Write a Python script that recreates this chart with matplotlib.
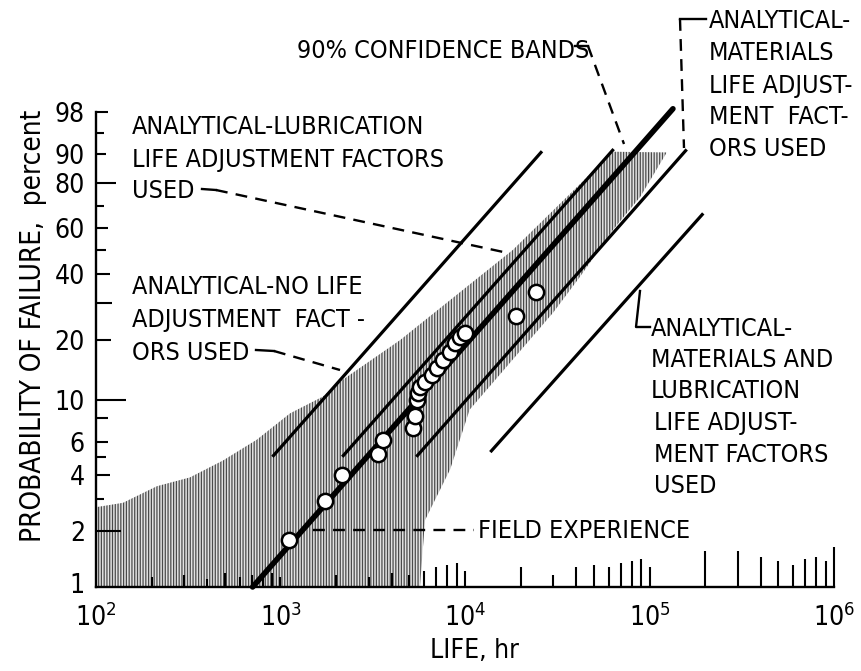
import numpy as np
import matplotlib
matplotlib.use("Agg")
import matplotlib.pyplot as plt
from matplotlib.lines import Line2D
from matplotlib.transforms import ScaledTranslation
from matplotlib.ticker import FixedLocator, FixedFormatter, NullFormatter
from matplotlib import font_manager as fm

# ---------------- data ----------------
life_pts = [1117, 1745, 2143, 3370, 3590, 5220, 5360, 5490, 5560, 5700,
            6070, 6620, 7050, 7600, 8300, 8840, 9400, 10000, 19000, 24200]
prob_pts = [1.8, 2.9, 4.0, 5.2, 6.2, 7.1, 8.2, 10.0, 10.9, 11.7,
            12.4, 13.4, 14.6, 16.0, 17.4, 19.4, 20.8, 21.6, 26.2, 33.4]

field_life = [706, 134000]
field_prob = [1.0, 98.3]
none_life = [916, 25800]
none_prob = [5.1, 90.5]
lub_life = [2190, 63100]
lub_prob = [5.1, 91.1]
mat_life = [5520, 157000]
mat_prob = [5.1, 91.0]
matlub_life = [13900, 193000]
matlub_prob = [5.4, 66.0]

band_life = [100, 100, 140, 214, 323, 488, 746, 1125, 1698, 2180, 4450, 18200,
             63400, 124000, 89000, 63400, 42000, 30000, 10600, 8300, 6070, 5700]
band_prob = [1.0, 2.7, 2.85, 3.5, 3.9, 4.8, 6.2, 8.5, 10.4, 12.7, 20, 50,
             90.7, 90.5, 74, 59, 39, 27, 8.9, 4.3, 2.3, 1.0]

y_major = [1, 2, 4, 6, 10, 20, 40, 60, 80, 90, 98]
y_minor = [3, 5, 8, 30, 50, 70, 95]
x_major = [1e2, 1e3, 1e4, 1e5, 1e6]
x_major_labels = [r"$\mathregular{10^{2}}$", r"$\mathregular{10^{3}}$",
                  r"$\mathregular{10^{4}}$", r"$\mathregular{10^{5}}$",
                  r"$\mathregular{10^{6}}$"]

# ---------------- fonts ----------------
avail = {f.name for f in fm.fontManager.ttflist}
stretch = "normal"
if "Liberation Sans Narrow" in avail:
    FONT = "Liberation Sans Narrow"
elif any(f.name == "DejaVu Sans" and f.stretch == "condensed" for f in fm.fontManager.ttflist):
    FONT = "DejaVu Sans"
    stretch = "condensed"
else:
    FONT = "Liberation Sans"
FAM = [FONT, "DejaVu Sans"]
plt.rcParams["font.family"] = FAM
plt.rcParams["font.stretch"] = stretch
plt.rcParams["mathtext.fontset"] = "custom"
plt.rcParams["mathtext.rm"] = FONT
plt.rcParams["mathtext.it"] = FONT
plt.rcParams["mathtext.bf"] = FONT
plt.rcParams["hatch.linewidth"] = 0.9
FS = 18

W, H = 862, 671
def fx(x):
    return x / W
def fy(y):
    return 1 - y / H

fig = plt.figure(figsize=(W / 100, H / 100), dpi=100)
ax = fig.add_axes([fx(96), fy(587), (834 - 96) / W, (587 - 112) / H])

def fwd(p):
    p = np.clip(np.asarray(p, dtype=float), 1e-6, 99.9999)
    return np.log(-np.log(1 - p / 100.0))

def inv(w):
    return 100.0 * (1 - np.exp(-np.exp(w)))

ax.set_xscale("log")
ax.set_yscale("function", functions=(fwd, inv))
ax.set_xlim(100, 1e6)
ax.set_ylim(1, 98)

# shaded confidence band
ax.fill(band_life, band_prob, facecolor="#e2e2e2", edgecolor="#4a4a4a",
        hatch="||||||", linewidth=0, zorder=1)

# lines
ax.plot(field_life, field_prob, color="black", lw=4.0, solid_capstyle="round",
        zorder=4, clip_on=False)
for lx, ly in [(none_life, none_prob), (lub_life, lub_prob),
               (mat_life, mat_prob), (matlub_life, matlub_prob)]:
    ax.plot(lx, ly, color="black", lw=2.3, zorder=3, clip_on=False)

ax.plot(life_pts, prob_pts, linestyle="none", marker="o", ms=11,
        mfc="white", mec="black", mew=1.8, zorder=5)

# spines & ticks
ax.spines["top"].set_visible(False)
ax.spines["right"].set_visible(False)
ax.spines["left"].set_linewidth(1.7)
ax.spines["bottom"].set_linewidth(1.7)

ax.yaxis.set_major_locator(FixedLocator(y_major))
ax.yaxis.set_major_formatter(FixedFormatter([str(v) for v in y_major]))
ax.yaxis.set_minor_locator(FixedLocator(y_minor))
ax.yaxis.set_minor_formatter(NullFormatter())
ax.xaxis.set_major_locator(FixedLocator(x_major))
ax.xaxis.set_major_formatter(FixedFormatter(x_major_labels))
x_minor = [m * 10 ** d for d in range(2, 6) for m in range(2, 10)]
ax.xaxis.set_minor_locator(FixedLocator(x_minor))
ax.xaxis.set_minor_formatter(NullFormatter())

ax.tick_params(axis="both", which="both", direction="in", width=1.5,
               labelsize=FS + 1, color="black")
ax.tick_params(axis="y", which="major", pad=8)
ax.tick_params(axis="x", which="major", pad=12)

# per-tick lengths (pixels) to mimic the hand-drawn graph paper
y_major_len = [0, 25, 14, 12, 30, 15, 14, 12, 20, 10, 12]
y_minor_len = [8, 10, 12, 16, 10, 8, 8]
x_major_len = [0, 10, 16, 20, 40]
x_minor_len = [10, 12, 8, 14, 10, 12, 10, 14,
               12, 10, 14, 12, 16, 20, 22, 24,
               20, 12, 20, 22, 20, 24, 26, 28,
               36, 36, 30, 26, 22, 28, 30, 26]
for t, L in zip(ax.yaxis.get_major_ticks(len(y_major)), y_major_len):
    t.tick1line.set_markersize(L * 0.72)
for t, L in zip(ax.yaxis.get_minor_ticks(len(y_minor)), y_minor_len):
    t.tick1line.set_markersize(L * 0.72)
for t, L in zip(ax.xaxis.get_major_ticks(len(x_major)), x_major_len):
    t.tick1line.set_markersize(L * 0.72)
for t, L in zip(ax.xaxis.get_minor_ticks(len(x_minor)), x_minor_len):
    t.tick1line.set_markersize(L * 0.72)

# nudge the "1" label slightly upward so it clears the 10^2 label
first = ax.yaxis.get_major_ticks(len(y_major))[0]
first.label1.set_transform(first.label1.get_transform() +
                           ScaledTranslation(0, 4 / 100, fig.dpi_scale_trans))

# axis labels
fig.text(fx(474), fy(651), "LIFE, hr", ha="center", va="center", fontsize=19)
fig.text(fx(33), fy(326), "PROBABILITY OF FAILURE,  percent", ha="center",
         va="center", rotation=90, fontsize=20)

# annotations
def seg(pts, dashed=False, lw=1.7):
    fig.add_artist(Line2D([fx(p[0]) for p in pts], [fy(p[1]) for p in pts],
                          transform=fig.transFigure, color="black", lw=lw,
                          linestyle=(0, (5, 3.5)) if dashed else "-"))

def block(lines, x, y0, dy, indent=None):
    for i, s in enumerate(lines):
        xx = x if indent is None else x + indent[i]
        fig.text(fx(xx), fy(y0 + i * dy), s, ha="left", va="center_baseline",
                 fontsize=FS)

block(["90% CONFIDENCE BANDS"], 297, 48, 0)
seg([(575, 46), (588, 46)])
seg([(588, 46), (624, 144)], dashed=True)

block(["ANALYTICAL-LUBRICATION", "LIFE ADJUSTMENT FACTORS", "USED"],
      132, 125, 32)
seg([(202, 189), (216, 190)])
seg([(216, 190), (508, 253)], dashed=True)

block(["ANALYTICAL-NO LIFE", "ADJUSTMENT  FACT -", "ORS USED"], 132, 285, 32.5)
seg([(256, 350), (274, 351)])
seg([(274, 351), (340, 370)], dashed=True)

block(["ANALYTICAL-", "MATERIALS", "LIFE ADJUST-", "MENT  FACT-", "ORS USED"],
      709, 19, 32)
seg([(706, 19), (680, 19)])
seg([(680, 19), (684, 148)], dashed=True)

block(["ANALYTICAL-", "MATERIALS AND", "LUBRICATION", "LIFE ADJUST-",
       "MENT FACTORS", "USED"], 651, 326, 31.5, indent=[0, 0, 0, 3, 3, 3])
seg([(650, 327), (636, 327), (640, 291)])

block(["FIELD EXPERIENCE"], 478, 528, 0)
seg([(313, 530), (474, 530)], dashed=True)

fig.savefig("out.png", dpi=100)
